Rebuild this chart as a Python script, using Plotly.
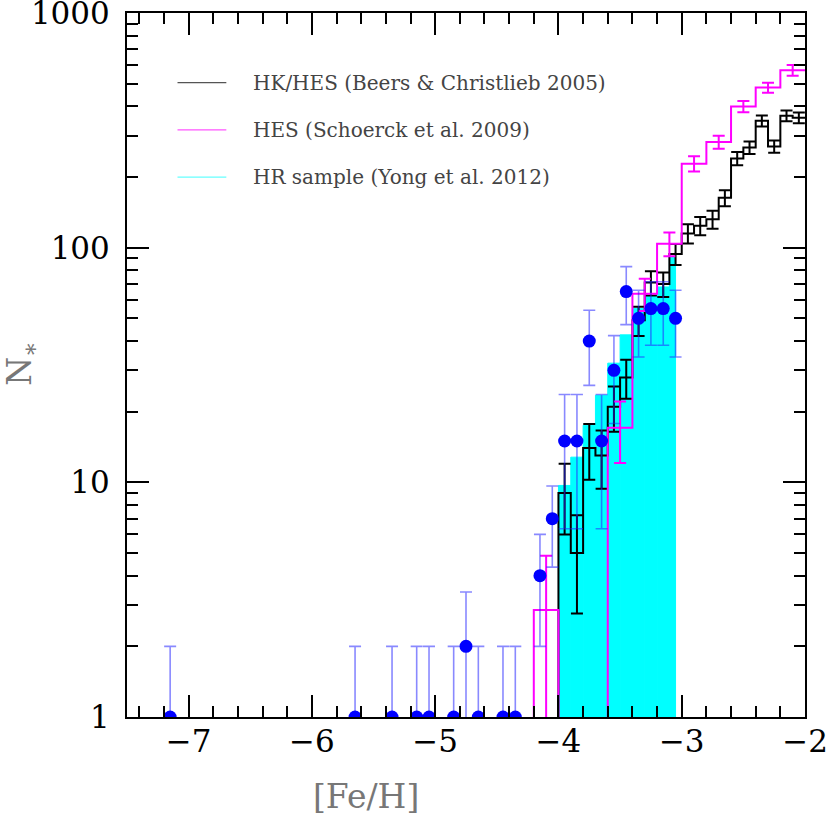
import plotly.graph_objects as go

# HR sample (Yong et al. 2012) - filled histogram
hr_edges = [-4.0, -3.9, -3.8, -3.7, -3.6, -3.5, -3.4, -3.3, -3.2, -3.1, -3.05]
hr_counts = [9.7, 12.8, 17.5, 23.5, 32.2, 42.5, 55, 62, 68, 91]

# HK/HES (Beers & Christlieb 2005)
hk_edges = [-4.0, -3.9, -3.8, -3.7, -3.6, -3.5, -3.4, -3.3, -3.2, -3.1, -3.0,
            -2.9, -2.8, -2.7, -2.6, -2.5, -2.4, -2.3, -2.2, -2.1, -2.0]
hk_counts = [9, 5, 14, 13, 21, 28, 49, 71, 70, 94, 115, 124, 132, 163, 240, 267, 347, 270, 365, 358]
hk_err = [3.0, 2.24, 3.74, 3.61, 4.58, 5.29, 7.0, 8.43, 8.37, 9.7, 10.7, 11.1, 11.5, 12.8,
          15.5, 16.3, 18.6, 16.4, 19.1, 18.9]

# HES (Schoerck et al. 2009)
hes_edges = [-4.2, -4.0, -3.8, -3.6, -3.4, -3.2, -3.0, -2.8, -2.6, -2.4, -2.2, -2.0]
hes_counts = [2.86, 0, 0, 17.1, 63.7, 104, 228, 282, 400, 481, 570]
hes_err = [2.0, 0, 0, 5.0, 10, 12, 17, 18, 22, 24, 30]

# stars / binned sample with error bars
pts_feh = [-7.15, -5.65, -5.35, -5.15, -5.05, -4.85, -4.75, -4.65, -4.45, -4.35, -4.15,
           -4.05, -3.95, -3.85, -3.75, -3.65, -3.55, -3.45, -3.35, -3.25, -3.15, -3.05]
pts_n = [1, 1, 1, 1, 1, 1, 2, 1, 1, 1, 4, 7, 15, 15, 40, 15, 30, 65, 50, 55, 55, 50]
pts_err = [1, 1, 1, 1, 1, 1, 1.41, 1, 1, 1, 2, 2.65, 8.66, 8.66, 14.1, 8.66, 12.2, 18.0,
           15.8, 16.6, 16.6, 15.8]

legend_names = ['HK/HES (Beers & Christlieb 2005)', 'HES (Schoerck et al. 2009)',
                'HR sample (Yong et al. 2012)']
legend_colors = ['#555555', '#ff55ff', '#66ffff']

FLOOR = 0.01  # below the log axis, used for the step outline going to the bottom


def step_outline(edges, counts):
    xs, ys = [edges[0]], [FLOOR]
    for i, c in enumerate(counts):
        v = c if c > 0 else FLOOR
        xs += [edges[i], edges[i + 1]]
        ys += [v, v]
    return xs, ys


def centers(edges):
    return [(a + b) / 2 for a, b in zip(edges[:-1], edges[1:])]


fig = go.Figure()

# cyan filled histogram
fig.add_trace(go.Bar(x=centers(hr_edges), y=hr_counts,
                     width=[b - a for a, b in zip(hr_edges[:-1], hr_edges[1:])],
                     marker=dict(color='#00ffff', line=dict(width=1, color='#00ffff')),
                     showlegend=False))

# black step histogram + errors
hx, hy = step_outline(hk_edges, hk_counts)
fig.add_trace(go.Scatter(x=hx, y=hy, mode='lines', line=dict(color='black', width=2),
                         showlegend=False))
fig.add_trace(go.Scatter(x=centers(hk_edges), y=hk_counts, mode='markers',
                         marker=dict(size=1, color='rgba(0,0,0,0)'),
                         error_y=dict(type='data', array=hk_err, color='black', thickness=2, width=6),
                         showlegend=False))

# magenta step histogram + errors
mx, my = step_outline(hes_edges, hes_counts)
fig.add_trace(go.Scatter(x=mx, y=my, mode='lines', line=dict(color='#ff00ff', width=2),
                         showlegend=False))
hes_y = [c if c > 0 else None for c in hes_counts]
fig.add_trace(go.Scatter(x=centers(hes_edges), y=hes_y, mode='markers',
                         marker=dict(size=1, color='rgba(0,0,0,0)'),
                         error_y=dict(type='data', array=hes_err, color='#ff00ff', thickness=2, width=6),
                         showlegend=False))

# blue points
fig.add_trace(go.Scatter(x=pts_feh, y=pts_n, mode='markers',
                         marker=dict(size=13, color='#0000ff'),
                         error_y=dict(type='data', array=pts_err, color='rgba(40,40,255,0.55)',
                                      thickness=1.6, width=6),
                         showlegend=False))

# legend drawn by hand
for i, (name, col) in enumerate(zip(legend_names, legend_colors)):
    yy = 0.901 - i * 0.067
    fig.add_shape(type='line', xref='paper', yref='paper', x0=0.0745, x1=0.1465, y0=yy, y1=yy,
                  line=dict(color=col, width=1.2))
    fig.add_annotation(xref='paper', yref='paper', x=0.183, y=yy, text=name, showarrow=False,
                       xanchor='left', yanchor='middle',
                       font=dict(family='DejaVu Serif', size=20, color='#444444'))

# axis titles
fig.add_annotation(xref='paper', yref='paper', x=0.353, y=-0.113, text='[Fe/H]', showarrow=False,
                   xanchor='center', yanchor='middle',
                   font=dict(family='DejaVu Serif', size=33, color='#777777'))
fig.add_annotation(xref='paper', yref='paper', x=-0.155, y=0.503, text='N<sub>∗</sub>', showarrow=False,
                   xanchor='center', yanchor='middle', textangle=-90,
                   font=dict(family='DejaVu Serif', size=33, color='#777777'))

tickfont = dict(family='DejaVu Serif', size=31, color='black')
fig.update_xaxes(range=[-7.5, -2], dtick=1, ticks='inside', ticklen=22, tickwidth=1.5,
                 tickcolor='black', showline=True, linewidth=2, linecolor='black',
                 mirror='allticks', showgrid=False, zeroline=False, tickfont=tickfont,
                 automargin=False, ticklabeloverflow='allow', ticklabelstandoff=-4,
                 minor=dict(dtick=0.2, ticks='inside', ticklen=11, tickwidth=1.5,
                            tickcolor='black', showgrid=False))
fig.update_yaxes(type='log', range=[0, 3], dtick=1, exponentformat='none', ticks='inside',
                 ticklen=22, tickwidth=1.5, tickcolor='black', showline=True, linewidth=2,
                 linecolor='black', mirror='allticks', showgrid=False, zeroline=False,
                 tickfont=tickfont, ticklabelstandoff=9, automargin=False,
                 ticklabeloverflow='allow',
                 minor=dict(dtick='D1', ticks='inside', ticklen=11, tickwidth=1.5,
                            tickcolor='black', showgrid=False))

fig.update_layout(width=830, height=820, margin=dict(l=127, r=25, t=13, b=103),
                  plot_bgcolor='white', paper_bgcolor='white', barmode='overlay',
                  showlegend=False)

# drop the default page margin so the figure fills the window from its corner
fig.write_html("out.html", config={'displayModeBar': False},
               post_script="document.body.style.margin='0';")
